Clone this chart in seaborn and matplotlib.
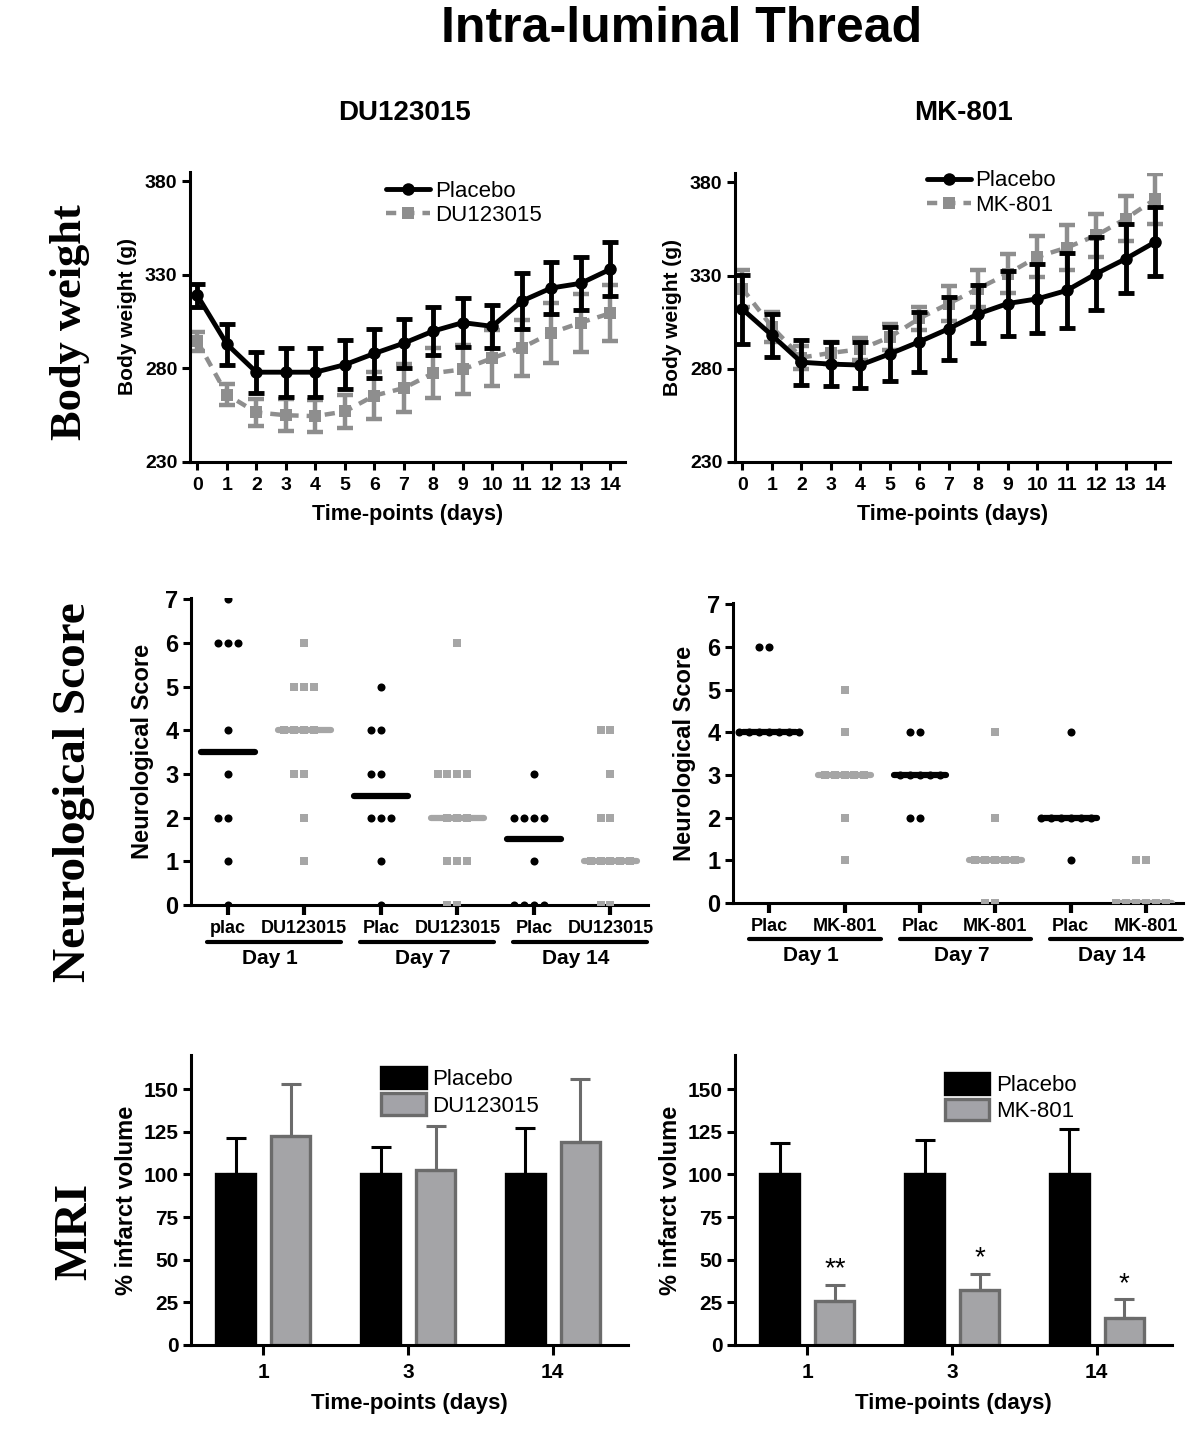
import numpy as np
import pandas as pd
import seaborn as sns
import matplotlib.pyplot as plt
from matplotlib.patches import Patch

sns.set_style("ticks")
plt.rcParams['font.family'] = ['Liberation Sans', 'DejaVu Sans']
plt.rcParams.update({
    'axes.linewidth': 2.2,
    'axes.edgecolor': 'black',
    'axes.labelcolor': 'black',
    'text.color': 'black',
    'xtick.color': 'black',
    'ytick.color': 'black',
})

# -------------------------------------------------------------
# data
# -------------------------------------------------------------
days = list(range(15))

bw_du_placebo = [319, 293, 278, 278, 278, 282, 288, 293.5, 300, 304.5, 302.5, 316, 323, 325.5, 333]
bw_du_placebo_sd = [6, 11, 11, 13, 13, 13, 13, 13, 13, 13, 11.5, 15, 14, 14, 14.5]
bw_du = [294.5, 266, 256.5, 255, 254.5, 257, 265.5, 269.5, 277.5, 279.5, 285.5, 291, 299, 304.5, 309.5]
bw_du_sd = [5, 5.5, 7, 8.5, 8.5, 9, 12.5, 13, 13.5, 13, 15, 15, 16, 15.5, 15]

bw_mk_placebo = [312, 298, 283.5, 282.5, 282, 288, 294.5, 301.5, 309.5, 315, 317.5, 322, 331, 339, 348]
bw_mk_placebo_sd = [18.5, 11.5, 12, 12, 12.5, 14.5, 16, 17, 15.5, 17.5, 18.5, 20, 19.5, 18.5, 18.5]
bw_mk = [323, 302.5, 286, 288.5, 290.5, 297, 307, 315, 323, 331, 340, 345, 351.5, 360.5, 371]
bw_mk_sd = [10, 8, 6, 6, 6, 7, 6, 9.5, 10, 10.5, 11, 12, 11.5, 12, 13.5]

neuro_cats = ["d1_plac", "d1_drug", "d7_plac", "d7_drug", "d14_plac", "d14_drug"]
neuro_du_ticks = ["plac", "DU123015", "Plac", "DU123015", "Plac", "DU123015"]
neuro_mk_ticks = ["Plac", "MK-801", "Plac", "MK-801", "Plac", "MK-801"]
day_labels = ["Day 1", "Day 7", "Day 14"]

du_d1_plac = [7, 6, 6, 6, 4, 3, 2, 2, 1, 0]
du_d1_drug = [6, 5, 5, 5, 4, 4, 4, 4, 3, 3, 2, 1]
du_d7_plac = [5, 4, 4, 3, 3, 2, 2, 2, 1, 0]
du_d7_drug = [6, 3, 3, 3, 3, 2, 2, 2, 1, 1, 1, 0, 0]
du_d14_plac = [3, 2, 2, 2, 2, 1, 0, 0, 0, 0]
du_d14_drug = [4, 4, 3, 2, 2, 1, 1, 1, 1, 1, 0, 0]

mk_d1_plac = [6, 6, 4, 4, 4, 4, 4, 4, 4]
mk_d1_drug = [5, 4, 3, 3, 3, 3, 3, 2, 1]
mk_d7_plac = [4, 4, 3, 3, 3, 3, 3, 2, 2]
mk_d7_drug = [4, 2, 1, 1, 1, 1, 1, 0, 0]
mk_d14_plac = [4, 2, 2, 2, 2, 2, 2, 1]
mk_d14_drug = [1, 1, 0, 0, 0, 0, 0, 0]

mri_times = ["1", "3", "14"]
mri_du_placebo = [100, 100, 100]
mri_du_placebo_sd = [21.5, 16, 27]
mri_du = [122.5, 102.5, 119]
mri_du_sd = [30.5, 25.8, 37]
mri_mk_placebo = [100, 100, 100]
mri_mk_placebo_sd = [18.7, 20, 26.7]
mri_mk = [26, 32.3, 15.6]
mri_mk_sd = [9.2, 9.4, 11.2]
mri_mk_stars = ["**", "*", "*"]

GREY_LINE = "#8e8e8e"
GREY_DOT = "#a6a6a6"
GREY_BAR = "#a3a3a8"
GREY_EDGE = "#6b6b6b"
SERIF = ['Liberation Serif', 'DejaVu Serif']

fig = plt.figure(figsize=(12, 14.38), dpi=100)
W, H = 1200, 1438


def add_ax(l, t, r, b):
    return fig.add_axes([l / W, 1 - b / H, (r - l) / W, (b - t) / H])


def style_ax(ax, size=14):
    sns.despine(ax=ax)
    ax.tick_params(direction='out', length=6, width=2.2, labelsize=size, pad=3)
    for lab in ax.get_xticklabels() + ax.get_yticklabels():
        lab.set_fontweight('bold')


# -------------------------------------------------------------
# 1. body weight
# -------------------------------------------------------------
def draw_weight(ax, placebo, placebo_sd, drug, drug_sd, name, leg_anchor):
    sns.lineplot(x=days, y=drug, ax=ax, color=GREY_LINE, lw=3.2, linestyle=(0, (2.3, 1.8)),
                 marker='s', markersize=8, markeredgewidth=0, label=name, zorder=2)
    ax.errorbar(days, drug, yerr=drug_sd, fmt='none', ecolor=GREY_LINE, elinewidth=3.2,
                capsize=5.5, capthick=3.2, zorder=2)
    sns.lineplot(x=days, y=placebo, ax=ax, color='black', lw=3.5, marker='o', markersize=9,
                 markeredgewidth=0, label='Placebo', zorder=3)
    ax.errorbar(days, placebo, yerr=placebo_sd, fmt='none', ecolor='black', elinewidth=3.5,
                capsize=5.5, capthick=3.5, zorder=3)
    ax.set_xlim(-0.25, 14.5)
    ax.set_ylim(230, 385)
    ax.set_xticks(days)
    ax.set_yticks([230, 280, 330, 380])
    ax.set_xlabel("Time-points (days)", fontsize=15.5, fontweight='bold', labelpad=7)
    ax.set_ylabel("Body weight (g)", fontsize=15, fontweight='bold', labelpad=6)
    h, l = ax.get_legend_handles_labels()
    ax.legend(h[::-1], l[::-1], loc='upper left', bbox_to_anchor=leg_anchor, frameon=False,
              fontsize=16, handlelength=2.0, handletextpad=0.2, labelspacing=0.15,
              borderaxespad=0)
    style_ax(ax, size=14)
    ax.tick_params(axis='x', pad=5)


ax1 = add_ax(190, 172, 625, 462)
draw_weight(ax1, bw_du_placebo, bw_du_placebo_sd, bw_du, bw_du_sd, "DU123015", (0.43, 1.0))
ax2 = add_ax(735, 173, 1170, 462)
draw_weight(ax2, bw_mk_placebo, bw_mk_placebo_sd, bw_mk, bw_mk_sd, "MK-801", (0.42, 1.04))


# -------------------------------------------------------------
# 2. neurological score
# -------------------------------------------------------------
def draw_neuro(ax, groups, ticks):
    plac = pd.DataFrame({"grp": [c for c, v in zip(neuro_cats, groups) if c.endswith("plac")
                                 for _ in v],
                         "score": [s for c, v in zip(neuro_cats, groups) if c.endswith("plac")
                                   for s in v]})
    drug = pd.DataFrame({"grp": [c for c, v in zip(neuro_cats, groups) if c.endswith("drug")
                                 for _ in v],
                         "score": [s for c, v in zip(neuro_cats, groups) if c.endswith("drug")
                                   for s in v]})
    # transparent edges keep a small gap between neighbouring points
    sns.swarmplot(data=plac, x="grp", y="score", order=neuro_cats, color='black', marker='o',
                  size=5.8, linewidth=1.0, edgecolor=(1, 1, 1, 0), ax=ax)
    sns.swarmplot(data=drug, x="grp", y="score", order=neuro_cats, color=GREY_DOT, marker='s',
                  size=5.4, linewidth=1.4, edgecolor=(1, 1, 1, 0), ax=ax)
    for i, (c, v) in enumerate(zip(neuro_cats, groups)):
        col = 'black' if c.endswith("plac") else GREY_DOT
        ax.plot([i - 0.35, i + 0.35], [np.median(v)] * 2, color=col, lw=4.5,
                solid_capstyle='round', zorder=5)
    ax.set_xlim(-0.48, 5.49)
    ax.set_ylim(0, 7.03)
    ax.set_yticks(range(8))
    ax.set_xticks(range(6))
    ax.set_xticklabels(ticks)
    ax.set_xlabel("")
    ax.set_ylabel("Neurological Score", fontsize=17, fontweight='bold', labelpad=8)
    style_ax(ax, size=17)
    ax.tick_params(axis='x', length=7, width=3, pad=4, labelsize=13)
    trans = ax.get_xaxis_transform()
    for k, day in enumerate(day_labels):
        a, b = 2 * k, 2 * k + 1
        ax.plot([a - 0.27, b + 0.48], [-0.12, -0.12], color='black', lw=3, transform=trans,
                clip_on=False, solid_capstyle='round')
        ax.text((a + b) / 2 + 0.05, -0.175, day, transform=trans, ha='center', va='center',
                fontsize=15, fontweight='bold')


ax3 = add_ax(191, 598, 648, 905)
draw_neuro(ax3, [du_d1_plac, du_d1_drug, du_d7_plac, du_d7_drug, du_d14_plac, du_d14_drug],
           neuro_du_ticks)
ax4 = add_ax(733, 603, 1183, 903)
draw_neuro(ax4, [mk_d1_plac, mk_d1_drug, mk_d7_plac, mk_d7_drug, mk_d14_plac, mk_d14_drug],
           neuro_mk_ticks)


# -------------------------------------------------------------
# 3. MRI infarct volume
# -------------------------------------------------------------
def draw_mri(ax, placebo, placebo_sd, drug, drug_sd, name, leg_anchor, stars=None):
    df = pd.DataFrame({"time": mri_times * 2,
                       "value": placebo + drug,
                       "group": ["Placebo"] * 3 + [name] * 3})
    sns.barplot(data=df, x="time", y="value", hue="group", order=mri_times,
                palette={"Placebo": "black", name: GREY_BAR}, width=0.76, gap=0.29,
                errorbar=None, ax=ax, legend=False)
    edges = ['black', GREY_EDGE]
    sds = [placebo_sd, drug_sd]
    for cont, ec, sd in zip(ax.containers, edges, sds):
        xs, tops = [], []
        for bar in cont:
            bar.set_edgecolor(ec)
            bar.set_linewidth(2.4)
            xs.append(bar.get_x() + bar.get_width() / 2)
            tops.append(bar.get_height())
        ax.errorbar(xs, tops, yerr=[np.zeros(len(sd)), sd], fmt='none', ecolor=ec,
                    elinewidth=2.2, capsize=7, capthick=2.2, zorder=1)
        if stars is not None and ec == GREY_EDGE:
            for x, t, s, st in zip(xs, tops, sd, stars):
                ax.text(x, t + s + 9, st, ha='center', va='center', fontsize=20)
    ax.set_xlim(-0.5, 2.52)
    ax.set_ylim(0, 170)
    ax.set_yticks(range(0, 151, 25))
    ax.set_xlabel("Time-points (days)", fontsize=16, fontweight='bold', labelpad=8)
    ax.set_ylabel("% infarct volume", fontsize=17, fontweight='bold', labelpad=4)
    handles = [Patch(facecolor='black', edgecolor='black', lw=2.4, label='Placebo'),
               Patch(facecolor=GREY_BAR, edgecolor=GREY_EDGE, lw=2.4, label=name)]
    ax.legend(handles=handles, loc='upper left', bbox_to_anchor=leg_anchor, frameon=False,
              fontsize=16, handlelength=2.0, handleheight=1.1, handletextpad=0.3,
              labelspacing=0.15, borderaxespad=0)
    style_ax(ax, size=15)
    ax.tick_params(axis='x', length=7, width=2.2, pad=6)


ax5 = add_ax(191, 1055, 628, 1345)
draw_mri(ax5, mri_du_placebo, mri_du_placebo_sd, mri_du, mri_du_sd, "DU123015", (0.415, 0.99))
ax6 = add_ax(735, 1055, 1172, 1345)
draw_mri(ax6, mri_mk_placebo, mri_mk_placebo_sd, mri_mk, mri_mk_sd, "MK-801", (0.46, 0.97),
         stars=mri_mk_stars)

# -------------------------------------------------------------
# 4. titles and row labels
# -------------------------------------------------------------
fig.text(682 / W, 1 - 29 / H, "Intra-luminal Thread", ha='center', va='center',
         fontsize=36, fontweight='bold')
fig.text(405 / W, 1 - 113 / H, "DU123015", ha='center', va='center', fontsize=20,
         fontweight='bold')
fig.text(964 / W, 1 - 113 / H, "MK-801", ha='center', va='center', fontsize=20,
         fontweight='bold')
fig.text(70 / W, 1 - 322 / H, "Body weight", rotation=90, ha='center', va='center',
         fontsize=32, fontweight='bold', family=SERIF)
fig.text(74 / W, 1 - 792 / H, "Neurological Score", rotation=90, ha='center', va='center',
         fontsize=34, fontweight='bold', family=SERIF)
fig.text(75 / W, 1 - 1231 / H, "MRI", rotation=90, ha='center', va='center',
         fontsize=34, fontweight='bold', family=SERIF)

fig.savefig("out.png", dpi=100)
